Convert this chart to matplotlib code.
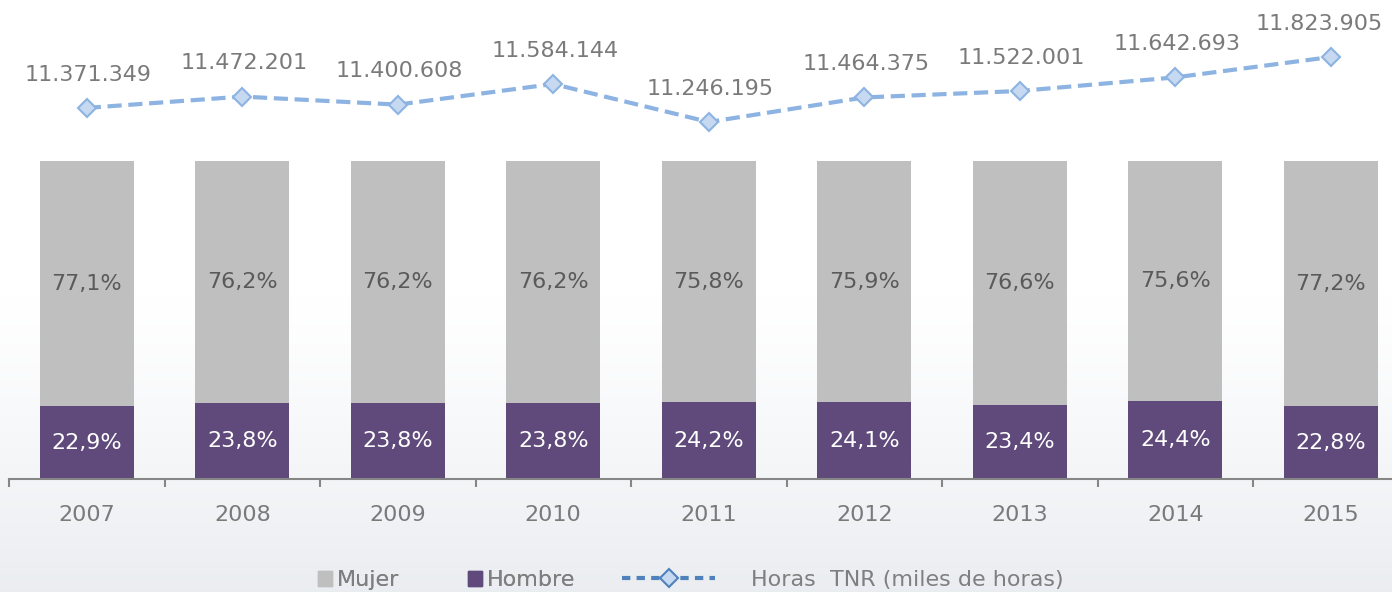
import numpy as np
import matplotlib.pyplot as plt
from matplotlib.patches import Patch
from matplotlib.lines import Line2D

# datos
anios = ['2007', '2008', '2009', '2010', '2011', '2012', '2013', '2014', '2015']
mujer = [77.1, 76.2, 76.2, 76.2, 75.8, 75.9, 76.6, 75.6, 77.2]
hombre = [22.9, 23.8, 23.8, 23.8, 24.2, 24.1, 23.4, 24.4, 22.8]
horas_tnr = [11371349, 11472201, 11400608, 11584144, 11246195,
             11464375, 11522001, 11642693, 11823905]

C_MUJER = '#bfbfbf'
C_HOMBRE = '#5f4a7b'
C_LINEA = '#8db3e2'
C_MARCA = '#c6d9f1'
C_TEXTO = '#7a7a7a'
C_EJE = '#868686'

plt.rcParams['font.family'] = ['DejaVu Sans']

W, H = 1392, 592
fig = plt.figure(figsize=(W / 100, H / 100), dpi=100)

# fondo con degradado suave
bg = fig.add_axes([0, 0, 1, 1], zorder=-10)
grad = np.linspace(0, 1, 256)
grad = np.clip((grad - 0.5) / 0.5, 0, 1) ** 1.2
top = np.array([1.0, 1.0, 1.0])
bot = np.array([0.92, 0.93, 0.945])
img = top[None, :] * (1 - grad[:, None]) + bot[None, :] * grad[:, None]
bg.imshow(img[:, None, :], aspect='auto', extent=[0, 1, 0, 1], origin='upper')
bg.axis('off')

paso = 155.5
x0 = 9
ax = fig.add_axes([x0 / W, 1 - 479 / H, (W - x0) / W, 479 / H])
ax.set_facecolor('none')
x = np.arange(len(anios))
ancho = 0.605

h = np.array(hombre) / 100
m = np.array(mujer) / 100
ax.bar(x, h, width=ancho, color=C_HOMBRE, zorder=2)
ax.bar(x, m, width=ancho, bottom=h, color=C_MUJER, zorder=2)

for i in range(len(anios)):
    ax.text(x[i], h[i] / 2, f"{hombre[i]:.1f}%".replace('.', ','),
            ha='center', va='center', color='white', fontsize=16, zorder=3)
    ax.text(x[i], h[i] + m[i] / 2, f"{mujer[i]:.1f}%".replace('.', ','),
            ha='center', va='center', color='#5a5a5a', fontsize=16, zorder=3)

for s in ['top', 'right', 'left']:
    ax.spines[s].set_visible(False)
ax.spines['bottom'].set_color(C_EJE)
ax.spines['bottom'].set_linewidth(1.5)
ax.set_yticks([])
ax.set_xticks(x)
ax.set_xticklabels(anios, fontsize=16, color=C_TEXTO)
ax.set_xticks(np.arange(-0.5, len(anios) + 0.5, 1), minor=True)
ax.tick_params(axis='x', which='major', length=0, pad=19)
ax.tick_params(axis='x', which='minor', length=6, width=1.5, color=C_EJE)
ax.set_xlim(-0.5, -0.5 + (W - x0) / paso)
ax.set_ylim(0, 479 / 318)

# linea de horas en eje secundario
ax2 = ax.twinx()
ax2.set_ylim(8073144, 12330543)
ax2.plot(x, horas_tnr, color=C_LINEA, lw=3, dashes=(3.4, 1.6),
         marker='D', ms=9.5, mfc=C_MARCA, mec=C_LINEA, mew=1.5, zorder=4)
for i, v in enumerate(horas_tnr):
    dx = -8 if i == len(horas_tnr) - 1 else 1
    ax2.annotate(f"{v:,}".replace(',', '.'), (x[i], v), xytext=(dx, 24),
                 textcoords='offset points', ha='center', va='center',
                 fontsize=16, color=C_TEXTO)
ax2.set_yticks([])
for s in ax2.spines.values():
    s.set_visible(False)
ax2.set_xlim(-0.5, -0.5 + (W - x0) / paso)

# leyenda
yl = 1 - 580 / H
kw = dict(frameon=False, loc='center left', borderpad=0, borderaxespad=0,
          fontsize=16, labelcolor='#7f7f7f')
l1 = fig.legend([Patch(color=C_MUJER)], ['Mujer'], bbox_to_anchor=(318 / W, yl),
                handlelength=0.65, handleheight=0.65, handletextpad=0.2, **kw)
l2 = fig.legend([Patch(color=C_HOMBRE)], ['Hombre'], bbox_to_anchor=(468 / W, yl),
                handlelength=0.65, handleheight=0.65, handletextpad=0.2, **kw)
fig.add_artist(l1)
fig.add_artist(l2)
linea = Line2D([], [], color='#4f81bd', lw=3, dashes=(2, 1.5), marker='D', ms=9,
               mfc=C_MARCA, mec='#4f81bd', mew=1.5)
fig.legend([linea], ['Horas  TNR (miles de horas)'], bbox_to_anchor=(622 / W, yl),
           handlelength=4.2, handletextpad=1.6, **kw)

fig.savefig('out.png', dpi=100)
